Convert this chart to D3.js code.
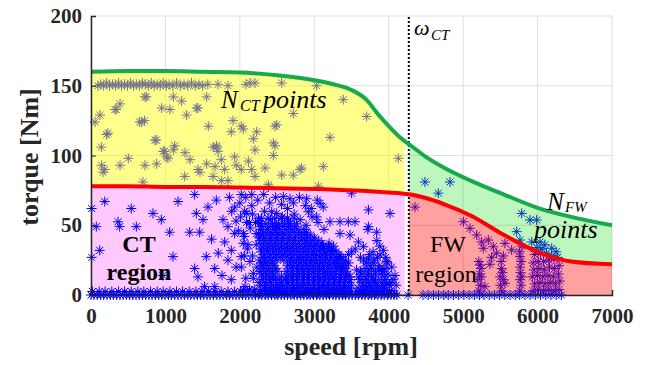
<!DOCTYPE html>
<html><head><meta charset="utf-8">
<script src="https://cdn.jsdelivr.net/npm/d3@7"></script>
<style>body{margin:0;background:#fff}svg{display:block}</style>
</head><body>
<svg id="chart" width="649" height="365"></svg>
<script>
// ---------- data ----------
const speedTicks = [0,1000,2000,3000,4000,5000,6000,7000];
const torqueTicks = [0,50,100,150,200];
const curveSpeed  = [0,500,1000,1500,2000,2500,3000,3300,3500,3700,3850,4000,4150,4300,4500,4750,5100,5550,6000,6450,7000];
const maxTorque   = [160,160.5,160.5,160,159.5,157.5,154,150.5,147,140,130,121,113,107,99,91,82,72,62.5,56,50];
const ratedTorque = [78,78,77.5,77.5,77,76.5,76,75.5,75,74.5,74,73.5,73,72,69.5,65,57,43,31,24,22];
const omegaCT = 4270;

// N_CT points (between rated and max torque, constant-torque region)
const nctPoints = [[94,150],[130,151],[170,150],[210,152],[250,150],[290,151],[330,150],[370,152],[410,150],[450,151],[490,150],[530,152],[570,150],[610,151],[650,150],[690,152],[730,151],[770,150],[810,152],[850,150],[890,151],[930,150],[970,152],[1010,150],[1050,151],[1100,150],[1150,152],[1200,150],[1250,151],[1300,150],[1350,152],[1400,150],[1450,151],[1500,150],[1570,151],[1706,151],[1840,150],[2082,151],[2136,152],[2203,152],[2562,152],[3032,150],
[54,124],[121,129],[139,106],[210,115],[228,116],[322,133],[390,137],[340,133],[725,142],[743,142],[681,124],[654,124],[720,125],[860,111],[877,111],[971,103],[989,103],[1106,142],[1218,139],[950,134],[1061,133],[1285,129],[1554,142],[1420,134],[1437,134],[1576,121],[143,93],[161,88],[184,90],[390,93],[501,98],[725,93],[882,94],[1017,99],[1034,98],[1106,104],[1124,107],[1263,102],[1330,97],[1464,88],[1554,94],[1643,106],[1684,107],[1666,92],[1706,103],[1908,125],[1885,117],[2019,121],[1259,85],[1437,90],[1640,85],[1751,97],[1796,90],[1930,99],[1952,93],[2019,90],[1751,82],[1840,82],[698,81],
[3390,140],[3704,128],[2718,130],[2495,122],[2046,119],[2226,117],[2181,112],[3211,113],[2450,109],[2203,104],[2450,100],[2114,96],[2338,91],[2159,90],[2203,85],[2562,86],[2718,86],[2830,91],[3121,92],[2808,90],[4129,98],[2383,79],[1688,106],[2472,121],[2472,107],[3055,78]];

// sparse operating points in the CT region
const ctSparse = [[9,62],[184,67],[541,62],[833,58.5],[945,54],[71,49],[363,52.5],[385,49],[609,49],[1057,45],[1326,45],[1460,45],[1169,67],[1415,58.5],[1505,54],[9,27],[117,32],[1102,27.5],[1549,27.5],[1393,19],[1437,13],[1662,19],[967,14],[1773,54],[1840,49],[1796,38],[1930,44],[1885,32],[2019,27.5],[1840,25],[1526,6],[1662,6],[1885,11],[2019,72],[1393,72],[1572,63],[1684,68],[1930,63],[2064,60],[2092,58.5],[2046,37],[2136,24],[2181,15.5],[2069,6],[2159,72],[2383,77.6],
[3727,61],[4017,58.5],[3211,52.5],[3345,52.5],[3457,52.5],[3547,52.5],[3727,49],[3838,45],[3345,44],[3480,43],[3592,38],[3659,34.6],[3502,31],[3928,32],[3883,28.7],[3727,26],[3569,18],[3973,24],[4040,20],[3906,18],[4085,14],[3793,11],[3973,8],[3704,6],[3480,13],[3345,20],[3345,27.5],[3256,32],[3121,34.6],[3077,65.7],[2920,59.7],[3032,56],[3502,73],[2897,69],[2584,70.5],[2674,69],[2428,59.7],[2495,58.5],[2271,51.4],
[2000,66],[2080,70],[2160,64],[2240,68],[2320,72],[2400,66],[2480,70],[2560,65],[2640,62],[2720,66],[2800,70],[2880,64],[2960,62],[3040,68],[3120,63],
[2010,56],[2090,52],[2170,58],[2250,55],[2330,60],[2410,54],[2490,50],[2570,56],[2650,53],[2730,58],[2810,54],[2890,50],[2970,56],[3050,52],[3130,47],
[1980,46],[2060,42],[2140,48],[2220,44],[1950,53],[1890,60],[1860,70],[1620,40],[1710,30],[1950,20],[1760,14],[2100,33]];

// dense cluster in the CT region: [torque, speeds]
const ctDenseRows = [
 [1,[2270,2350,2420,2490,2560,2640,2710,2770,2850,2920,2980,3050,3120,3190,3260,3330,3400,3470,3560,3650,3740,3830,3910,4000,4080]],
 [3,[2310,2390,2460,2520,2600,2680,2730,2810,2880,2950,3010,3090,3160,3230,3300,3370,3440,3620,3700,3790,3880,3950,4040]],
 [4,[2050,2130,2200]],
 [5,[2330,2410,2480,2550,2620,2700,2760,2830,2900,2970,3040,3110,3180,3250,3320,3390,3460,3590,3690,3780,3860,3940]],
 [7,[2280,2350,2430,2500,2570,2650,2720,2790,2860,2930,3000,3070,3140,3210,3280,3350,3420,3500,3660,3750,3830,3920,4010,4100]],
 [9,[2260,2340,2410,2490,2560,2640,2710,2780,2850,2920,2990,3060,3120,3190,3260,3330,3400,3460,3640,3730,3820,3900,4030]],
 [11,[2300,2380,2450,2530,2610,2690,2760,2840,2910,2990,3060,3130,3200,3270,3340,3410,3480,3610,3700,3790,3860,3960,4060]],
 [12,[2080,2180]],
 [13,[2320,2400,2480,2560,2630,2700,2770,2850,2920,2990,3060,3130,3200,3270,3350,3420,3590,3680,3770,3940]],
 [15,[2290,2360,2440,2650,2720,2800,2870,2940,3020,3090,3160,3230,3300,3370,3450,3640,3730,3820,3900,3990]],
 [17,[2270,2350,2430,2510,2620,2700,2780,2850,2920,2990,3060,3140,3210,3280,3360,3430,3620,3720,3820,3920]],
 [19,[2320,2400,2480,2690,2760,2830,2900,2970,3040,3110,3180,3250,3330,3400,3680,3770,3870,3950]],
 [20,[2020,2230]],
 [21,[2300,2380,2460,2640,2720,2790,2860,2930,3000,3070,3140,3210,3290,3360,3440,3750,3870]],
 [23,[2280,2350,2440,2670,2740,2810,2880,2950,3020,3090,3170,3240,3310,3390,3460,3700,3800,3980]],
 [25,[2270,2340,2420,2500,2590,2680,2760,2830,2900,2970,3050,3120,3200,3270,3340,3420,3660,3800]],
 [27,[2310,2390,2470,2550,2630,2710,2790,2860,2930,3000,3080,3150,3220,3300,3370,3620,3850,3960]],
 [28,[2060,2170]],
 [29,[2330,2410,2490,2570,2650,2730,2810,2890,2960,3030,3110,3180,3250,3330,3460,3740]],
 [31,[2290,2370,2450,2530,2610,2690,2770,2850,2920,2990,3070,3140,3220,3290,3790]],
 [33,[2280,2360,2440,2520,2600,2680,2760,2840,2920,3000,3080,3160,3230,3550]],
 [35,[2320,2400,2480,2560,2640,2720,2800,2880,2960,3040,3110,3190,3260,3880]],
 [36,[2110,2220]],
 [37,[2310,2390,2470,2550,2630,2710,2790,2870,2940,3020,3100,3200]],
 [39,[2270,2350,2430,2510,2590,2670,2750,2830,2900,2980,3060,3840]],
 [41,[2260,2340,2420,2500,2580,2660,2740,2830,2910,3000]],
 [43,[2300,2380,2460,2540,2620,2700,2790,2870,2950]],
 [44,[2050,2250]],
 [45,[2320,2410,2490,2570,2660,2740,2820,2900]],
 [47,[2280,2370,2450,2530,2620,2700,2780,2860,3720]],
 [49,[2300,2390,2480,2570,2650,2730]],
 [51,[2270,2350,2440,2520,2600,2680,2760]],
 [52,[2130,2210]],
 [55,[2290,2380,2470,2560,2640,2730]]
];

// field-weakening region points
const fwPoints = [[4487,81],[4823,81],[4666,73],[5787,58.5],[5898,53.8],[5988,53.8],[5719,45.4],[6032,38],[6099,36],[6190,33.5],[5921,38],[6250,31],
[4353,63],[5003,52.5],[5092,47.8],[5182,43],[5248,38],[5338,39.4],[5405,34.6],[5271,33.5],[5450,30],[5562,37],[5652,32.3],[5764,39.4],
[5210,3],[5230,7],[5200,11],[5220,15],[5240,19],[5210,24],[5226,21.5],[5248,13],[5293,6],
[5520,3],[5500,7],[5540,11],[5517,19],[5495,13],[5562,8.4],[5530,16],[5510,24],[5540,28],[5360,22],[5380,27],
[5760,3],[5780,7],[5764,11],[5787,13],[5764,20],[5764,27.5],[5770,16],[5780,24],[5760,31],[5790,35],
[5940,3],[6010,4],[6080,3],[6150,4],[6220,3],[6290,4],
[5960,8],[6030,9],[6100,8],[6170,9],[6240,8],[6300,10],
[5930,13],[6000,14],[6070,13],[6140,14],[6210,13],[6280,15],
[5950,18],[6020,19],[6090,18],[6160,20],[6230,19],[6290,21],
[5940,23],[6010,24],[6080,24],[6150,25],[6220,26],[6270,27],
[5960,29],[6040,30],[6120,30],[6190,28],[5990,34],[6060,33]];

// zero-torque operating points
const zeroRowA = [0,40,85,130,170,215,260,300,345,390,430,475,520,560,605,650,690,735,780,820,865,910,950,995,1040,1080,1125,1170,1210,1255,1300,1340,1385,1430,1470,1515,1560,1600,1645,1690,1730,1775,1820,1860,1905,1950,1990,2035,2080,2120,2165,2210,2250,2295,2340,2380,2425,2470,2510,2555,2600,2640,2685,2730,2770,2815,2860,2900,2945,2990,3030,3075,3120,3160,3205,3250,3290,3335,3380,3420,3465,3510,3550,3595,3640,3680,3725,3770,3810,3855,3900,3940,3985,4030,4070];
const zeroRowB = [20,110,190,280,370,450,540,630,710,800,890,970,1060,1150,1230,1320,1410,1490,1580,1670,1750,1840,1930,2010,2100,2190,2270,2360,2450,2530,2620,2710,2790,2880,2970,3050,3140,3230,3310,3400,3490,3570,3660,3750,3830,3920,4010];
const zeroRowFW = [4110,4260,4460,4530,4600,4670,4740,4800,4870,4940,5010,5080,5150,5220,5280,5350,5420,5490,5560,5630,5700,5760,5830,5900,5970,6040,6110,6180,6250,6320];

// ---------- drawing ----------
const svg = d3.select("#chart");
const x = d3.scaleLinear().domain([0,7000]).range([91,612]);
const y = d3.scaleLinear().domain([0,200]).range([295,16]);
const serif = "'Liberation Serif', 'Times New Roman', Times, serif";

// grid
svg.append("g").selectAll("line").data(speedTicks).join("line")
  .attr("x1",d=>x(d)).attr("x2",d=>x(d)).attr("y1",y(0)).attr("y2",y(200))
  .attr("stroke","#dedede").attr("stroke-width",1);
svg.append("g").selectAll("line").data(torqueTicks).join("line")
  .attr("x1",x(0)).attr("x2",x(7000)).attr("y1",d=>y(d)).attr("y2",d=>y(d))
  .attr("stroke","#dedede").attr("stroke-width",1);

const star = "M-5,0H5M0,-5V5M-3.5,-3.5L3.5,3.5M-3.5,3.5L3.5,-3.5";
function drawStars(g, pts){
  g.selectAll("path").data(pts).join("path")
    .attr("d",star).attr("transform",d=>`translate(${x(d[0])},${y(d[1])})`)
    .attr("fill","none").attr("stroke","#0000ff").attr("stroke-width",1);
}

// clip regions
const defs = svg.append("defs");
defs.append("clipPath").attr("id","ctClip").append("rect")
  .attr("x",x(0)).attr("y",0).attr("width",x(4215)-x(0)).attr("height",365);
defs.append("clipPath").attr("id","fwClip").append("rect")
  .attr("x",x(omegaCT)).attr("y",0).attr("width",x(7000)-x(omegaCT)).attr("height",365);

const idx = d3.range(curveSpeed.length);
const upperArea = d3.area().curve(d3.curveMonotoneX)
  .x(i=>x(curveSpeed[i])).y0(i=>y(ratedTorque[i])).y1(i=>y(maxTorque[i]));
const lowerArea = d3.area().curve(d3.curveMonotoneX)
  .x(i=>x(curveSpeed[i])).y0(y(0)).y1(i=>y(ratedTorque[i]));

// pink CT region under the points
svg.append("path").datum(idx).attr("d",lowerArea).attr("clip-path","url(#ctClip)")
  .attr("fill","#ffc8ff");

const densePts = [];
ctDenseRows.forEach(r=>r[1].forEach(s=>densePts.push([s,r[0]])));
drawStars(svg.append("g"), nctPoints);
drawStars(svg.append("g"), ctSparse);
drawStars(svg.append("g"), densePts);
drawStars(svg.append("g"), fwPoints);

// translucent regions over the points
svg.append("path").datum(idx).attr("d",upperArea).attr("clip-path","url(#ctClip)")
  .attr("fill","#ffff00").attr("fill-opacity",0.45);
svg.append("path").datum(idx).attr("d",upperArea).attr("clip-path","url(#fwClip)")
  .attr("fill","#00e000").attr("fill-opacity",0.26);
svg.append("path").datum(idx).attr("d",lowerArea).attr("clip-path","url(#fwClip)")
  .attr("fill","#ff0000").attr("fill-opacity",0.37);

// zero-torque rows on top
drawStars(svg.append("g"), zeroRowA.map(s=>[s,0]));
drawStars(svg.append("g"), zeroRowB.map(s=>[s,2.5]));
drawStars(svg.append("g"), zeroRowFW.map(s=>[s,0]));

// omega_CT dotted line
svg.append("line").attr("x1",x(omegaCT)).attr("x2",x(omegaCT)).attr("y1",y(0)).attr("y2",y(200))
  .attr("stroke","#000").attr("stroke-width",2).attr("stroke-dasharray","2,2");

// curves
const lineMax = d3.line().curve(d3.curveMonotoneX).x(i=>x(curveSpeed[i])).y(i=>y(maxTorque[i]));
const lineRated = d3.line().curve(d3.curveMonotoneX).x(i=>x(curveSpeed[i])).y(i=>y(ratedTorque[i]));
svg.append("path").datum(idx).attr("d",lineMax).attr("fill","none").attr("stroke","#17aa4a").attr("stroke-width",4);
svg.append("path").datum(idx).attr("d",lineRated).attr("fill","none").attr("stroke","#ff0000").attr("stroke-width",4);

// axes
const xAxis = svg.append("g").attr("transform",`translate(0,${y(0)})`)
  .call(d3.axisBottom(x).tickValues(speedTicks).tickSize(-5).tickPadding(13).tickFormat(d3.format("d")));
const yAxis = svg.append("g").attr("transform",`translate(${x(0)},0)`)
  .call(d3.axisLeft(y).tickValues(torqueTicks).tickSize(-5).tickPadding(9));
[xAxis,yAxis].forEach(a=>{
  a.attr("font-family",null).attr("font-size",null);
  a.select(".domain").attr("stroke","#262626").attr("stroke-width",1.5);
  a.selectAll(".tick line").attr("stroke","#262626");
  a.selectAll("text").style("font-family",serif).style("font-weight","bold")
    .style("font-size","21px").attr("fill","#262626");
});
xAxis.selectAll(".tick").filter(d=>d===7000).select("line").remove();

// axis labels
svg.append("text").attr("x",351).attr("y",355).attr("text-anchor","middle")
  .style("font-family",serif).style("font-weight","bold").style("font-size","26px").attr("fill","#262626")
  .text("speed [rpm]");
svg.append("text").attr("transform","translate(38,157) rotate(-90)").attr("text-anchor","middle")
  .style("font-family",serif).style("font-weight","bold").style("font-size","26px").attr("fill","#262626")
  .text("torque [Nm]");

// annotations
function label(txt,xx,yy,size,opts={}){
  return svg.append("text").attr("x",xx).attr("y",yy).style("font-family",serif)
    .style("font-size",size+"px").style("font-style",opts.italic?"italic":"normal")
    .style("font-weight",opts.bold?"bold":"normal").attr("text-anchor",opts.anchor||"start")
    .attr("fill","#000").text(txt);
}
label("ω",414,35,22,{italic:true});
label("CT",431,40,15,{italic:true});
label("N",221,108,25,{italic:true});
label("CT",240,111,16,{italic:true});
label("points",263,108,26,{italic:true});
label("N",547,210,25,{italic:true});
label("FW",565,212,15,{italic:true});
label("points",534,238,26,{italic:true});
label("CT",139,252,24,{bold:true,anchor:"middle"});
label("region",139,280,24,{bold:true,anchor:"middle"});
label("FW",448,252,24,{anchor:"middle"});
label("region",446,282,24,{anchor:"middle"});
</script>
</body></html>
